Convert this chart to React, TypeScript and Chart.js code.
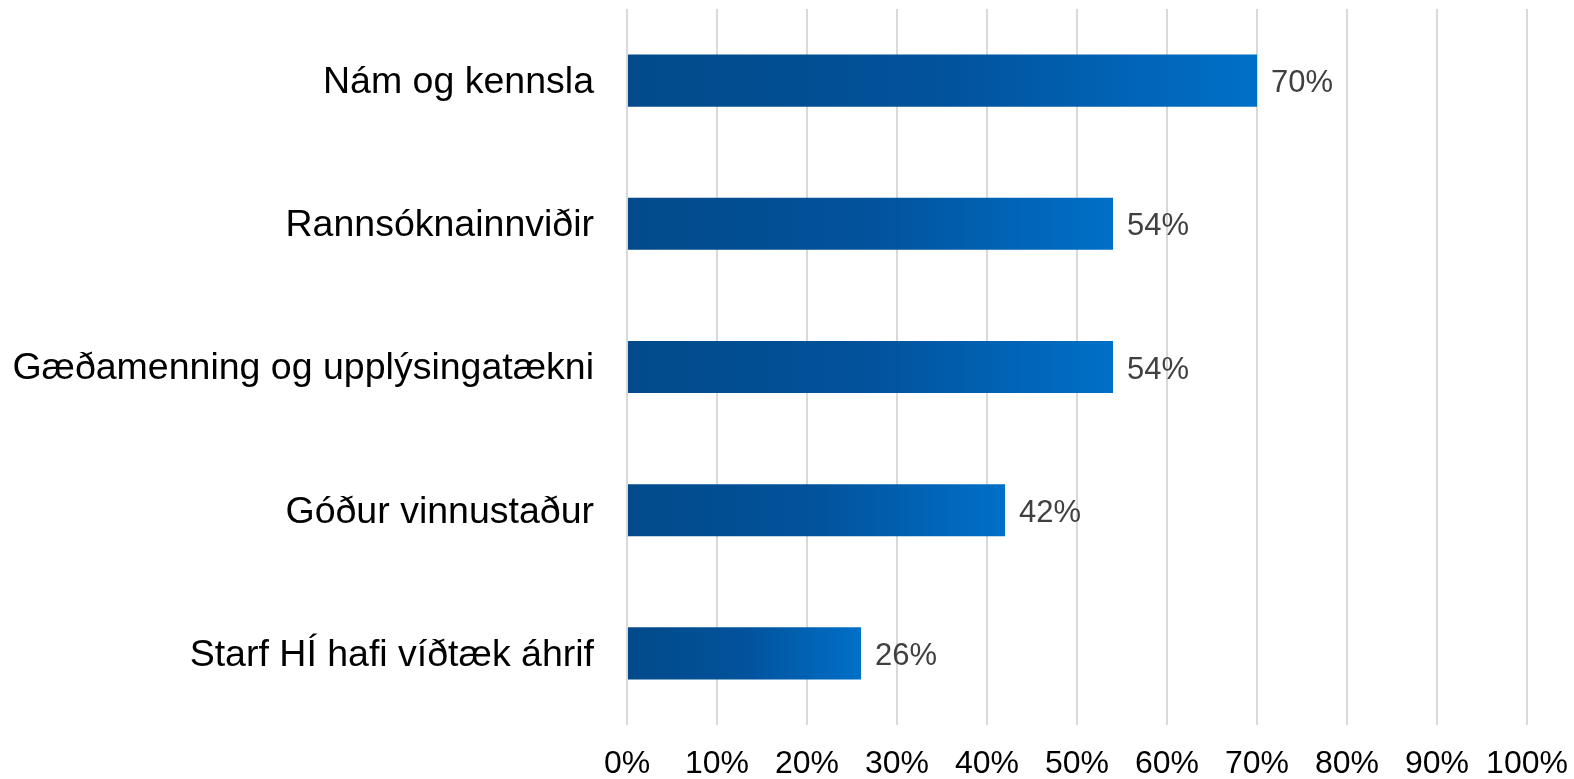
import React, { useEffect, useRef } from "react";
import { Chart, registerables } from "chart.js";

Chart.register(...registerables);

const categories = [
  "Nám og kennsla",
  "Rannsóknainnviðir",
  "Gæðamenning og upplýsingatækni",
  "Góður vinnustaður",
  "Starf HÍ hafi víðtæk áhrif",
];
const values = [70, 54, 54, 42, 26];
const xTicks = [0, 10, 20, 30, 40, 50, 60, 70, 80, 90, 100];

const FONT = "'Liberation Sans', Arial, sans-serif";

const dataLabels = {
  id: "dataLabels",
  afterDatasetsDraw(chart: any) {
    const ctx = chart.ctx;
    const meta = chart.getDatasetMeta(0);
    ctx.save();
    ctx.font = `31px ${FONT}`;
    ctx.fillStyle = "#404040";
    ctx.textAlign = "left";
    ctx.textBaseline = "middle";
    meta.data.forEach((el: any, i: number) => {
      ctx.fillText(`${values[i]}%`, el.x + 14, el.y + 3);
    });
    ctx.restore();
  },
};

const zeroPad = (s: any) => {
  s.paddingTop = 0;
  s.paddingBottom = 0;
  s.paddingLeft = 0;
  s.paddingRight = 0;
};

export default function App() {
  const ref = useRef<HTMLCanvasElement | null>(null);
  useEffect(() => {
    document.body.style.margin = "0";
    const canvas = ref.current!;
    const chart = new Chart(canvas, {
      type: "bar",
      data: {
        labels: categories,
        datasets: [
          {
            data: values,
            backgroundColor: (c: any) => {
              const ch = c.chart;
              const xs = ch.scales?.x;
              if (!xs || !ch.chartArea || c.dataIndex === undefined) return "#0060b0";
              const x0 = xs.getPixelForValue(0);
              const x1 = xs.getPixelForValue(values[c.dataIndex]);
              if (!isFinite(x0) || !isFinite(x1) || x1 <= x0) return "#0060b0";
              const g = ch.ctx.createLinearGradient(x0, 0, x1, 0);
              g.addColorStop(0, "#024a8a");
              g.addColorStop(0.5, "#02529c");
              g.addColorStop(1, "#0070c8");
              return g;
            },
            borderWidth: 0,
            barPercentage: 0.364,
            categoryPercentage: 1,
          },
        ],
      },
      options: {
        indexAxis: "y",
        responsive: false,
        animation: false,
        layout: { padding: { top: 9, right: 47, left: 0, bottom: 0 } },
        plugins: { legend: { display: false }, tooltip: { enabled: false } },
        scales: {
          x: {
            min: 0,
            max: 100,
            afterBuildTicks: (s: any) => {
              s.ticks = xTicks.map((v) => ({ value: v }));
            },
            afterFit: (s: any) => {
              s.height = 54;
              zeroPad(s);
            },
            grid: { color: "#d9d9d9", lineWidth: 2, drawTicks: false },
            border: { display: false },
            ticks: {
              padding: 20,
              color: "#000000",
              font: { family: FONT, size: 32 },
              callback: (v: any) => `${v}%`,
              maxRotation: 0,
            },
          },
          y: {
            afterFit: (s: any) => {
              s.width = 627;
              zeroPad(s);
            },
            grid: { display: false },
            border: { display: false },
            ticks: {
              padding: 25,
              labelOffset: 2,
              color: "#000000",
              font: { family: FONT, size: 37.5 },
            },
          },
        },
      },
      plugins: [dataLabels],
    });
    return () => chart.destroy();
  }, []);
  return (
    <div style={{ width: 1574, height: 779 }}>
      <canvas ref={ref} width={1574} height={779} style={{ display: "block" }} />
    </div>
  );
}
